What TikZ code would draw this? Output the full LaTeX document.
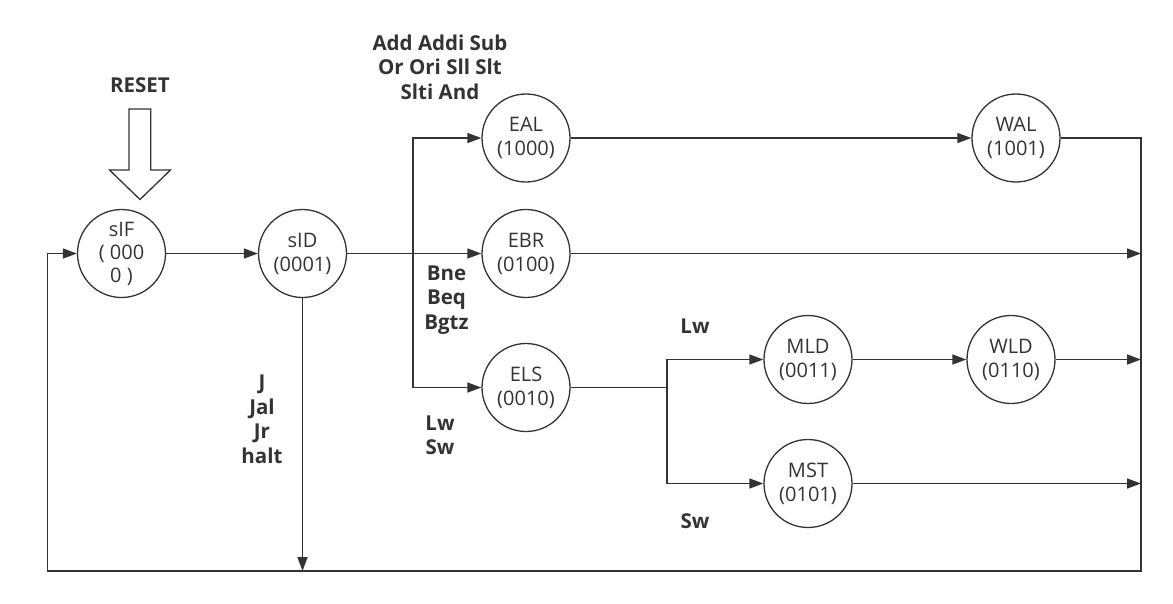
\documentclass[tikz,border=0pt]{standalone}
\usepackage{fontspec}
\setmainfont{Open Sans}
\usetikzlibrary{arrows.meta,calc}
\definecolor{ink}{RGB}{51,51,51}
\begin{document}
\begin{tikzpicture}[x=1pt,y=-1pt,
  state/.style={circle,draw=ink,line width=1.3pt,minimum size=88pt,inner sep=0pt,align=center,text=ink,font=\fontsize{20}{24}\selectfont},
  lbl/.style={align=center,text=ink,font=\fontsize{20.5}{24.5}\selectfont\bfseries},
  wire/.style={draw=ink,line width=1.5pt},
  arr/.style={wire,-{Triangle[length=14pt,width=10pt]}}]
\useasboundingbox (0,0) rectangle (1173,603);
% states
\node[state] (sIF) at (121.5,253.5) {sIF\\[-1pt]( 000\\[-1pt]0 )};
\node[state] (sID) at (302.5,253.5) {sID\\(0001)};
\node[state] (EAL) at (526,138) {EAL\\(1000)};
\node[state] (EBR) at (526,253.5) {EBR\\(0100)};
\node[state] (ELS) at (526,387.5) {ELS\\(0010)};
\node[state] (WAL) at (1016,138) {WAL\\(1001)};
\node[state] (MLD) at (808,359.5) {MLD\\(0011)};
\node[state] (WLD) at (1011,359.5) {WLD\\(0110)};
\node[state] (MST) at (808,483.5) {MST\\(0101)};
% labels
\node[lbl] (reset) at (140,85) {RESET};
\node[lbl] (lal) at (440,67) {Add Addi Sub\\Or Ori Sll Slt\\Slti And};
\node[lbl] (lbr) at (446.5,300) {Bne\\Beq\\Bgtz};
\node[lbl] (lls) at (440,435.5) {Lw\\Sw};
\node[lbl] (lj) at (262,419.5) {J\\Jal\\Jr\\halt};
\node[lbl] (llw) at (695,326) {Lw};
\node[lbl] (lsw) at (695,521.5) {Sw};
% reset arrow
\draw[draw=ink,line width=1.3pt,fill=white] (129,109) -- (150.7,109) -- (150.7,170) -- (170.5,170) -- (140,199.5) -- (109.5,170) -- (129,170) -- cycle;
% coordinates
\coordinate (br) at (413,253.5);
\coordinate (elsbr) at (667,387.5);
\coordinate (bustop) at (1141,138);
\coordinate (busbot) at (1141,571);
\coordinate (leftbot) at (47.5,571);
% connectors
\draw[arr] (sIF) -- (sID);
\draw[arr] (sID) -- (EBR);
\draw[arr] (br) |- (EAL);
\draw[arr] (br) |- (ELS);
\draw[arr] (EAL) -- (WAL);
\draw[arr] (sID) -- (sID |- busbot);
\draw[wire] (ELS) -- (elsbr);
\draw[arr] (elsbr) |- (MLD);
\draw[arr] (elsbr) |- (MST);
\draw[arr] (MLD) -- (WLD);
\draw[arr] (EBR) -- (EBR -| bustop);
\draw[arr] (WLD) -- (WLD -| bustop);
\draw[arr] (MST) -- (MST -| bustop);
\draw[arr] (WAL) -- (bustop) -- (busbot) -- (leftbot) |- (sIF);
\end{tikzpicture}
\end{document}
